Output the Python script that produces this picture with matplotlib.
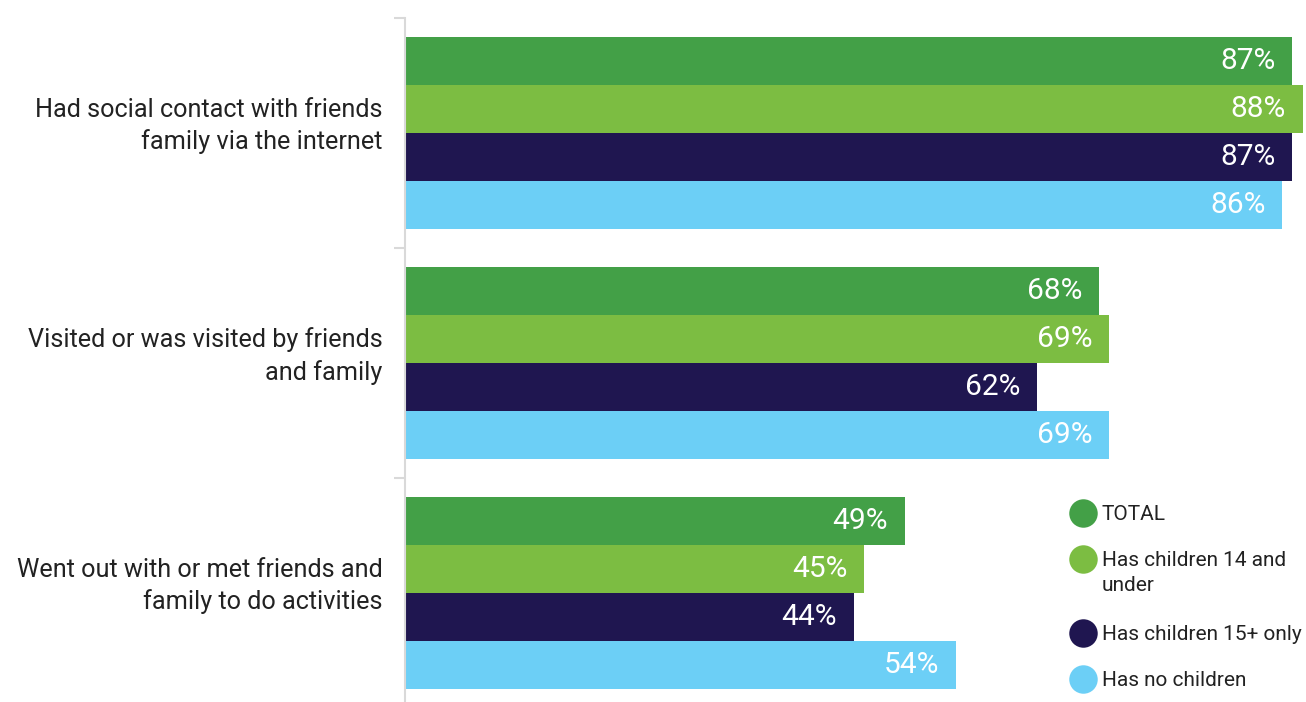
import matplotlib
matplotlib.use("Agg")
import matplotlib.pyplot as plt
from matplotlib.lines import Line2D

# Survey results (% of respondents)
categories = [
    "Had social contact with friends\nfamily via the internet",
    "Visited or was visited by friends\nand family",
    "Went out with or met friends and\nfamily to do activities",
]
series_names = ["TOTAL", "Has children 14 and\nunder", "Has children 15+ only", "Has no children"]
total = [87, 68, 49]
children_14_under = [88, 69, 45]
children_15_plus = [87, 62, 44]
no_children = [86, 69, 54]
series_values = [total, children_14_under, children_15_plus, no_children]
colors = ["#43A047", "#7CBD42", "#1F1650", "#6CCFF6"]

plt.rcParams["font.family"] = ["Roboto", "DejaVu Sans"]

W, H = 1306, 702
fig = plt.figure(figsize=(W / 100, H / 100), dpi=100)
ax_left, ax_top = 405, 18
ax_w = W - ax_left
ax_h = H - ax_top
ax = fig.add_axes([ax_left / W, 0, ax_w / W, ax_h / H])

band = 230.0          # pixel height of one category band
pad = 19 / band       # gap above first bar in a band
bar_h = 48 / band     # height of each bar

for j, (vals, col) in enumerate(zip(series_values, colors)):
    ys = [i + pad + bar_h * (j + 0.5) for i in range(len(categories))]
    ax.barh(ys, vals, height=bar_h, color=col, edgecolor="none")
    for y, v in zip(ys, vals):
        ax.annotate(f"{v}%", xy=(v, y), xytext=(-12, 0), textcoords="offset points",
                    ha="right", va="center", color="white", fontsize=21.5)

for i, cat in enumerate(categories):
    ax.annotate(cat, xy=(0, i + 0.5), xycoords=("axes fraction", "data"),
                xytext=(-16, 5), textcoords="offset points", ha="right",
                va="center", fontsize=18.2, color="#222222", linespacing=1.38)

ax.set_xlim(0, ax_w / 10.2)
ax.set_ylim(ax_h / band, 0)
ax.set_xticks([])
ax.set_yticks([0, 1, 2])
ax.set_yticklabels([])
ax.tick_params(axis="y", length=8, width=1.5, color="#d9d9d9")
for s in ["top", "right", "bottom"]:
    ax.spines[s].set_visible(False)
ax.spines["left"].set_color("#d9d9d9")
ax.spines["left"].set_linewidth(1.5)

# Legend: circle markers with labels, wrapped labels hang below the first line
marker_x, text_x = 1083, 1102
y_pos = 513
line_gap, entry_gap = 28, 46
for name, col in zip(series_names, colors):
    fig.add_artist(Line2D([marker_x / W], [1 - y_pos / H], marker="o", ls="",
                          markersize=20.5, markerfacecolor=col,
                          markeredgecolor="none", transform=fig.transFigure))
    n_lines = name.count("\n") + 1
    fig.text(text_x / W, 1 - (y_pos - 8.5) / H, name, ha="left", va="top",
             fontsize=15, color="#222222", linespacing=1.42)
    y_pos += line_gap * (n_lines - 1) + entry_gap

fig.savefig("out.png", dpi=100)
